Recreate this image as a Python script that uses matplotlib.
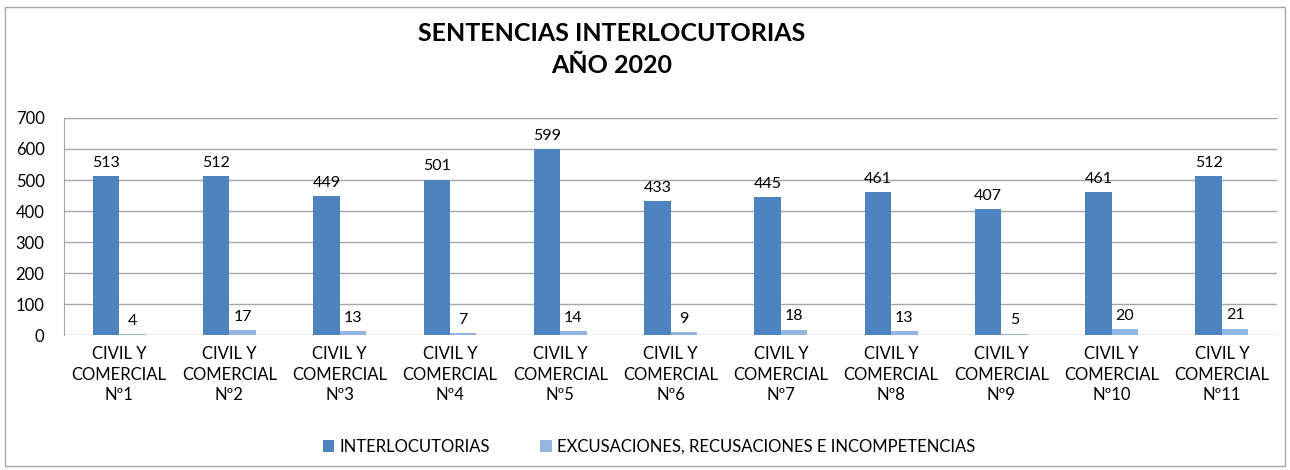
import numpy as np
import matplotlib.pyplot as plt
from matplotlib.patches import Rectangle

plt.rcParams['font.family'] = ['Lato', 'DejaVu Sans']

categorias = ['CIVIL Y\nCOMERCIAL\nNº%d' % i for i in range(1, 12)]
interlocutorias = [513, 512, 449, 501, 599, 433, 445, 461, 407, 461, 512]
excusaciones = [4, 17, 13, 7, 14, 9, 18, 13, 5, 20, 21]

fig = plt.figure(figsize=(12.9, 4.7), dpi=100)
ax = fig.add_axes([0.0496, 0.287, 0.9404, 0.462])

x = np.arange(len(categorias))
w = 0.24
b1 = ax.bar(x - w / 2, interlocutorias, w, color='#4D84BF', label='INTERLOCUTORIAS', zorder=3)
b2 = ax.bar(x + w / 2, excusaciones, w, color='#93B5E0',
            label='EXCUSACIONES, RECUSACIONES E INCOMPETENCIAS', zorder=3)

for rect, v in zip(b1, interlocutorias):
    ax.text(rect.get_x() + rect.get_width() / 2, v + 20, str(v), ha='center', va='bottom', fontsize=11.5)
for rect, v in zip(b2, excusaciones):
    ax.text(rect.get_x() + rect.get_width() / 2, v + 20, str(v), ha='center', va='bottom', fontsize=11.5)

ax.set_xlim(-0.5, len(categorias) - 0.5)
ax.set_ylim(0, 700)
ax.set_yticks(range(0, 701, 100))
ax.set_xticks(x)
ax.set_xticklabels(categorias, fontsize=12, linespacing=1.35)
ax.tick_params(axis='y', labelsize=12, length=0, pad=14)
ax.tick_params(axis='x', length=0, pad=8)
ax.grid(axis='y', color='#A6A6A6', linewidth=1, zorder=0)
for s in ['right', 'bottom']:
    ax.spines[s].set_visible(False)
ax.spines['left'].set_color('#A6A6A6')
ax.spines['top'].set_color('#A6A6A6')

fig.text(0.474, 0.895, 'SENTENCIAS INTERLOCUTORIAS\nAÑO 2020', ha='center', va='center',
         fontsize=18, fontweight='bold', linespacing=1.45)

fig.legend(handles=[b1, b2], loc='center', bbox_to_anchor=(0.503, 0.05), ncol=2,
           frameon=False, fontsize=12, handlelength=0.7, handleheight=0.7,
           columnspacing=3.0, handletextpad=0.3)

fig.patches.append(Rectangle((0.004, 0.008), 0.992, 0.978, transform=fig.transFigure,
                             fill=False, edgecolor='#A6A6A6', linewidth=1))

fig.savefig('out.png', dpi=100)
